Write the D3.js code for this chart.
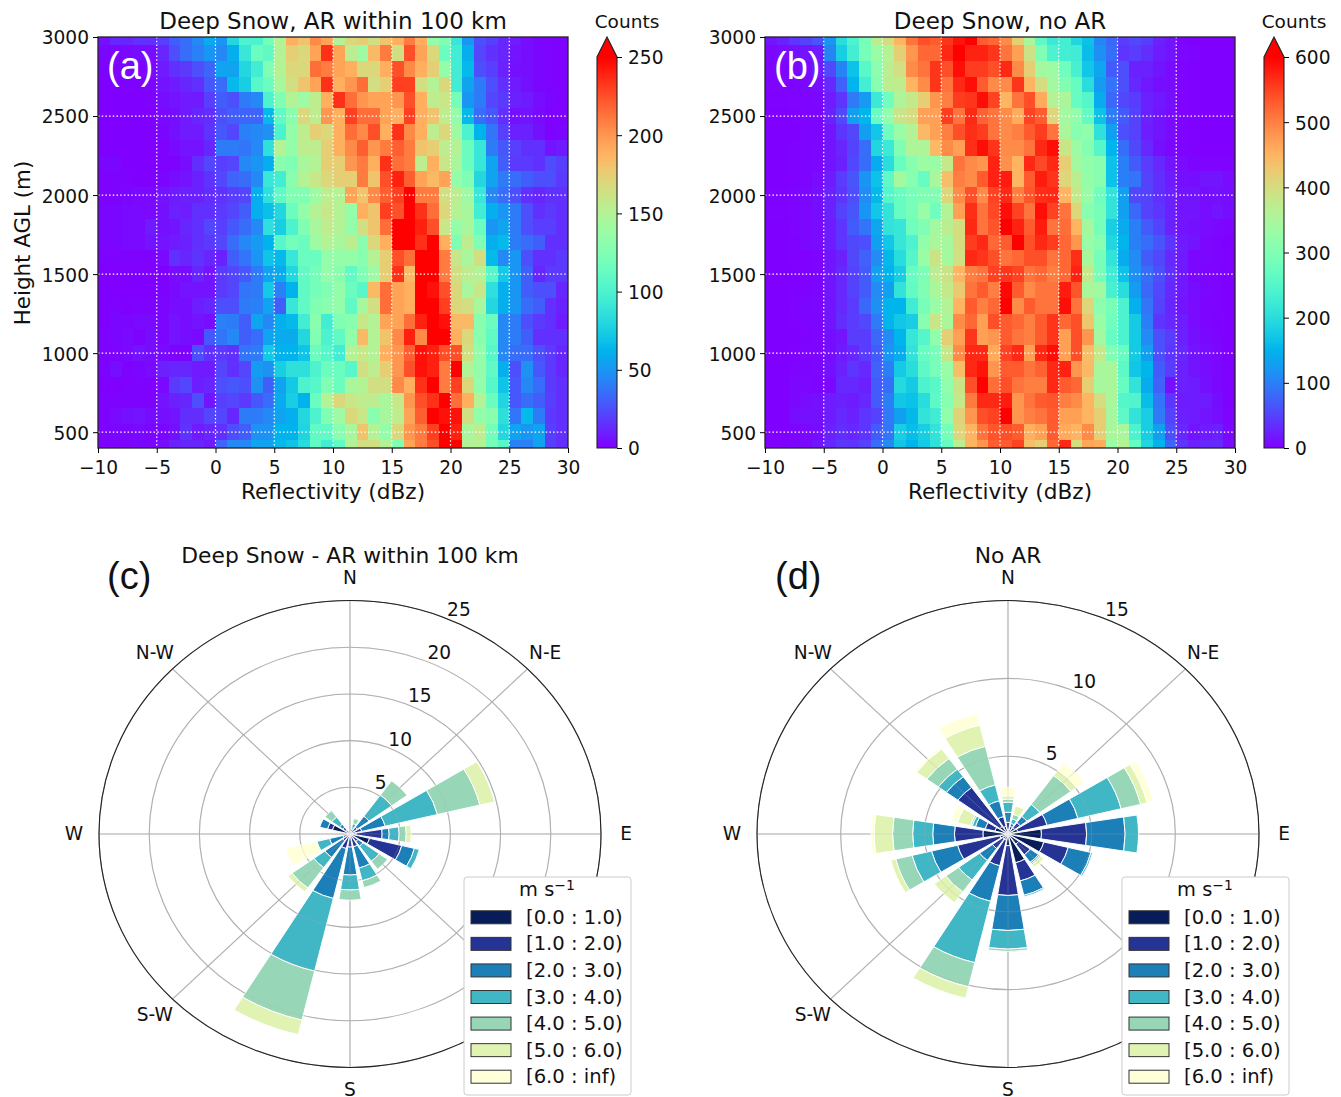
<!DOCTYPE html>
<html lang="en">
<head>
<meta charset="utf-8">
<title>Deep Snow reflectivity and wind roses</title>
<script src="https://d3js.org/d3.v7.min.js"></script>
<style>
    body { margin: 0; background: #fff; }
    svg text { font-family: "DejaVu Sans", sans-serif; fill: #111; }
    .tick text { font-size: 18.6px; transform: translateY(1px); }
    .panel-tag { font-family: "Liberation Sans", sans-serif !important; font-size: 38px; }
</style>
</head>
<body>
<svg id="chart" width="1341" height="1097"></svg>
<script>

//_____________________________DATA_____________________________
var xTicks = [-10, -5, 0, 5, 10, 15, 20, 25, 30];
var yTicks = [500, 1000, 1500, 2000, 2500, 3000];
var heights = d3.range(3000, 300, -100);
var ticksA = [0, 50, 100, 150, 200, 250];
var ticksB = [0, 100, 200, 300, 400, 500, 600];

// counts per 1 dBz bin (-10..30), top row = 3000 m, bottom row = 400 m
var gridA = [
[5,12,12,15,15,20,30,35,45,58,50,80,100,100,120,150,190,180,205,195,150,170,175,165,180,190,210,190,135,125,90,50,25,20,12,8,4,2,1,1],
[2,2,3,4,4,12,25,35,42,50,45,60,90,115,110,150,175,170,195,235,195,155,140,185,210,165,225,195,170,115,95,60,22,15,12,6,4,2,1,1],
[1,1,2,2,3,8,15,18,25,32,55,55,80,95,125,150,170,170,215,210,195,190,170,170,190,225,205,190,175,135,95,65,25,20,10,5,4,2,1,1],
[0,0,1,1,2,6,8,12,15,28,35,65,75,105,115,145,165,180,195,235,190,200,215,165,175,230,230,165,150,170,95,55,40,25,15,8,5,2,1,1],
[0,0,0,0,1,4,6,8,8,20,30,25,40,45,100,125,150,140,155,190,235,215,200,195,195,200,225,190,155,160,120,50,40,22,18,10,8,4,2,1],
[0,0,0,0,0,3,4,8,12,14,25,30,32,32,65,110,130,170,155,200,190,230,215,215,195,190,230,190,180,155,135,65,35,28,15,5,6,3,1,1],
[0,0,0,0,0,2,5,8,8,16,28,22,42,45,48,100,135,155,175,170,190,215,205,225,190,235,205,190,155,170,140,100,62,38,20,10,10,5,1,2],
[0,0,0,0,0,1,3,6,6,12,40,40,38,45,85,150,135,155,155,175,190,205,220,200,210,220,210,180,175,155,150,115,90,40,28,20,15,15,6,8],
[2,2,0,0,0,1,1,4,14,22,20,22,45,50,60,130,125,145,150,175,175,200,210,190,235,215,210,155,190,160,145,115,90,55,30,18,18,15,24,20],
[1,1,1,0,0,2,4,6,10,16,22,32,35,45,90,95,130,150,160,170,175,175,210,180,225,240,220,195,185,195,135,125,80,55,40,35,30,25,25,18],
[1,1,2,3,3,6,8,10,10,14,16,20,22,60,85,110,125,125,140,155,150,195,180,205,220,230,250,210,210,165,155,140,90,45,35,25,15,12,15,15],
[2,2,3,3,3,5,10,9,15,15,18,22,30,60,68,80,115,135,150,160,150,135,190,180,230,225,250,235,215,170,150,145,95,60,50,40,25,15,18,15],
[2,2,3,3,8,5,6,12,15,22,20,28,35,45,85,75,100,125,145,155,150,135,165,180,215,250,250,240,225,160,135,145,115,50,55,40,25,20,20,15],
[2,2,3,3,6,6,8,10,15,18,22,35,45,52,62,105,120,115,140,150,145,155,130,170,190,250,250,235,250,190,125,155,125,60,65,40,35,30,15,15],
[1,1,1,1,1,3,15,12,16,12,10,30,38,50,70,65,90,115,115,135,135,135,130,150,175,225,215,250,250,210,160,145,165,65,45,50,25,15,15,18],
[0,0,0,0,0,0,4,4,12,6,18,22,28,40,55,58,80,110,120,135,130,110,125,140,175,235,185,250,250,210,165,155,150,105,72,50,30,12,18,18],
[0,0,0,0,0,1,3,6,6,6,18,22,38,40,72,42,62,110,120,125,135,115,105,185,215,195,190,250,245,225,170,145,160,85,60,50,30,25,25,12],
[0,1,0,1,1,2,4,4,9,12,25,25,40,42,55,30,90,110,125,130,135,110,145,165,215,195,190,250,250,230,170,165,145,80,60,50,35,30,15,10],
[0,2,2,3,3,2,6,4,6,4,42,40,30,55,45,60,65,95,130,95,125,130,160,150,195,195,215,240,250,245,185,185,130,115,45,40,25,18,15,8],
[1,2,3,1,4,2,6,4,3,28,38,45,30,35,55,58,58,80,125,100,110,135,185,150,180,205,240,205,250,250,190,170,130,110,45,40,30,15,15,15],
[1,1,3,6,4,3,1,1,25,15,18,15,38,40,72,62,62,70,115,105,95,150,160,150,190,200,220,245,240,225,225,165,135,105,45,35,35,25,18,12],
[1,4,1,2,3,10,12,12,8,8,22,15,22,52,48,75,85,85,100,115,115,105,165,155,175,200,225,245,240,210,250,150,135,110,60,25,48,28,18,12],
[0,0,1,1,1,3,18,22,9,12,25,28,25,48,30,55,72,100,105,125,115,145,150,165,165,205,190,235,250,210,230,170,135,105,70,28,45,35,18,15],
[1,1,1,1,1,6,10,12,25,6,20,22,18,28,35,58,75,62,115,150,170,160,155,155,145,160,200,225,235,250,215,190,150,115,78,28,35,30,20,15],
[1,3,5,6,4,5,6,14,14,22,22,12,40,40,45,55,60,80,100,125,140,170,160,130,145,155,195,220,250,245,245,165,135,130,85,38,65,40,18,15],
[1,2,2,3,2,2,5,16,8,12,15,25,30,48,48,62,62,78,110,110,130,145,180,150,135,170,200,210,230,250,240,145,155,120,80,55,50,55,20,15],
[1,1,1,2,2,4,10,12,12,8,32,45,45,55,55,65,70,82,110,95,110,150,165,165,150,125,195,210,225,250,250,150,150,120,105,42,42,55,20,15]
];
var gridB = [
[15,25,40,50,65,120,200,240,290,370,400,450,510,540,530,560,585,600,530,520,490,420,350,260,220,230,190,165,105,80,45,55,45,25,15,3,0,0,0,0],
[5,8,12,15,20,105,180,230,290,330,360,420,480,520,520,570,600,575,575,560,510,470,390,300,240,230,225,160,115,85,40,45,35,20,15,5,2,0,0,0],
[3,3,6,10,18,55,105,165,255,315,370,395,490,510,560,540,590,555,555,540,570,490,420,340,335,280,235,170,135,70,60,25,25,15,8,3,1,0,0,0],
[2,2,3,5,10,30,75,150,230,310,370,375,450,490,560,510,570,590,530,490,490,560,450,400,340,300,270,200,125,90,60,30,18,10,8,2,1,0,0,0],
[1,1,2,3,5,20,40,95,125,220,280,355,380,420,480,500,555,560,590,550,450,510,540,460,360,350,270,250,140,80,55,45,25,18,12,2,1,0,0,0],
[0,0,1,2,4,25,55,130,150,270,320,385,400,470,470,555,510,570,525,510,490,460,550,530,410,340,320,265,165,100,70,50,25,15,8,2,1,0,0,0],
[0,0,0,2,4,15,40,55,130,170,280,330,360,445,470,500,540,565,555,510,490,500,530,555,510,350,310,320,205,130,60,50,22,15,8,2,1,0,0,0],
[0,0,1,3,5,15,28,50,85,190,220,300,355,355,445,490,470,565,590,560,490,490,510,570,590,385,335,305,250,150,85,55,30,12,5,2,1,0,0,0],
[0,0,1,3,5,15,25,55,85,140,200,275,310,335,330,380,510,490,480,575,485,450,570,545,570,420,340,320,310,165,100,70,45,30,15,8,4,2,2,2],
[0,0,1,4,8,20,45,65,120,165,260,345,310,270,350,440,500,490,530,575,580,450,530,580,560,410,370,325,310,165,100,90,50,35,20,12,10,15,15,8],
[1,1,3,5,12,25,40,60,110,155,250,270,290,300,300,410,490,540,490,550,570,500,535,565,570,450,380,330,280,210,130,55,50,35,25,15,15,10,12,10],
[1,1,3,5,10,25,50,65,120,170,210,270,290,330,280,360,470,565,510,545,590,550,510,590,550,510,410,310,290,210,130,80,50,40,25,15,15,10,15,10],
[0,0,2,5,8,20,40,70,90,135,210,215,280,300,340,370,400,570,510,535,600,575,530,580,510,515,450,345,290,180,140,100,70,50,25,15,12,8,5,2],
[0,0,1,5,8,20,40,55,60,130,170,215,240,320,350,345,400,555,570,520,530,600,540,570,555,520,480,330,310,190,150,100,85,65,40,20,15,5,3,0],
[0,0,1,1,3,15,25,55,75,110,155,200,250,330,390,340,395,570,560,540,510,520,540,540,510,520,565,345,290,210,140,110,70,55,30,20,5,5,3,1],
[0,0,0,1,3,15,30,50,70,130,150,180,270,295,370,390,450,500,510,550,560,550,510,520,500,520,575,380,290,225,165,115,85,60,35,18,5,3,2,0],
[0,0,1,1,4,15,30,50,70,110,130,210,265,300,350,380,425,510,530,500,595,530,490,510,510,580,535,350,340,235,200,125,80,55,30,18,10,5,3,0],
[0,0,2,4,5,15,30,45,80,115,150,150,225,290,330,360,450,530,500,520,600,490,530,510,510,590,510,410,315,290,240,145,90,50,28,15,8,3,2,0],
[0,0,1,2,4,15,35,45,55,95,150,170,180,310,385,350,490,520,470,540,530,520,500,530,560,520,540,430,330,280,240,175,100,40,30,22,8,3,1,0],
[0,0,0,1,2,10,15,45,45,80,110,150,215,250,320,420,470,560,470,480,530,510,500,530,560,470,540,480,340,270,240,175,110,60,45,25,12,6,3,0],
[0,0,1,2,3,10,20,30,45,70,120,140,210,270,290,385,490,570,570,460,550,570,470,570,590,470,540,440,380,300,270,175,130,60,40,30,15,10,5,0],
[0,0,2,4,5,12,25,40,30,75,100,175,200,260,290,330,440,570,585,480,530,530,510,525,570,575,480,445,350,350,260,170,150,70,45,25,15,10,5,1],
[0,0,5,5,3,5,30,30,25,70,85,195,175,240,255,320,390,540,600,515,540,510,500,500,570,530,520,420,345,350,270,210,140,75,12,25,20,12,6,1],
[0,0,5,8,12,20,25,20,30,70,100,170,165,200,260,310,380,505,570,570,580,480,510,530,535,500,490,450,400,350,250,245,160,90,40,20,20,20,10,1],
[0,0,10,12,12,20,30,25,40,50,95,130,155,210,225,320,415,480,540,550,600,480,500,510,530,470,470,450,420,345,260,210,180,95,50,25,20,15,10,2],
[0,0,3,5,10,25,35,30,40,70,90,180,160,180,210,290,410,450,510,535,540,530,455,470,530,460,450,490,420,350,350,240,180,130,60,30,15,20,25,5],
[0,0,3,6,15,30,42,40,50,85,110,170,150,175,205,270,370,450,480,530,530,550,440,420,520,570,400,465,460,330,360,270,190,150,80,40,25,30,30,8]
];

var directions = d3.range(0, 360, 22.5);   // N, NNE, NE ... NNW
var spokes = [0, 45, 90, 135, 180, 225, 270, 315];
var compass = [["N",0],["N-E",45],["E",90],["S",180],["S-W",225],["W",270],["N-W",315]];   // S-E sits behind the legend
var speedBins = ["[0.0 : 1.0)","[1.0 : 2.0)","[2.0 : 3.0)","[3.0 : 4.0)","[4.0 : 5.0)","[5.0 : 6.0)","[6.0 : inf)"];
var speedColors = ["#081d58","#253494","#1d7fb7","#41b6c4","#98d6b8","#e0f3b2","#ffffd9"];

// percent frequency per direction, one value per speed bin
var roseC = [
[0,0,0,0,0,0,0],
[0.2,0.3,0.2,0.45,0.55,0,0],
[0.3,0.6,1.45,2.8,1.9,0,0],
[0.3,0.9,2.4,5.35,4.35,1.5,0],
[0.6,2.6,0.7,1.0,0.7,0.5,0],
[2.0,3.3,1.3,0.5,0,0,0],
[0.3,0.7,0.6,2.0,1.05,0,0],
[0.1,1.3,2.35,1.4,0.75,0,0],
[0.2,1.2,3.0,1.6,1.1,0,0],
[0.2,1.4,5.5,8.0,5.4,1.6,0],
[0.1,0.8,2.2,1.35,2.7,0.5,0],
[0.2,0.5,1.4,1.3,0,0,3.2],
[0,0,0,0,0,0,0],
[1.8,0.5,0.8,0,0,0,0],
[0.5,0.4,0.4,0.95,0.85,0,0],
[0,0,0,0,0,0,0]
];
var roseD = [
[0.3,0.45,0.65,0.65,0.2,0.2,0.55],
[0.3,0.2,0.2,0.3,0.3,0.55,0],
[0.5,0.4,0.5,0.95,2.3,0.4,0.6],
[0.6,1.8,1.9,2.65,1.2,0.4,0.4],
[2.0,2.7,2.3,0.8,0,0,0],
[2.2,1.5,1.4,0.1,0,0,0],
[0.8,0.85,0.6,0.1,0.1,0.2,0.1],
[1.9,1.2,0.95,0.1,0,0,0],
[0.75,3.2,2.25,1.2,0.15,0,0],
[0.4,1.7,2.35,4.05,1.6,0.75,0],
[0.4,0.75,0.95,1.55,0.95,0.85,0],
[0.5,2.6,1.6,1.2,1.0,0.3,0],
[1.5,1.7,1.3,1.2,1.2,1.1,0.2],
[0.8,0.6,0.6,0.2,0.1,0.8,0.4],
[0.6,3.1,0.85,0.6,0.85,0.75,0.1],
[0.5,0.65,1.05,1.05,2.55,1.4,0.75]
];

//_____________________________HELPERS_____________________________
var svg = d3.select("#chart");
var minus = function (d) { return String(d).replace("-", "\u2212"); };

// same ramp as matplotlib "rainbow"
function rainbow(t) {
    var r = Math.abs(2 * t - 0.5), g = Math.sin(Math.PI * t), b = Math.cos(Math.PI * t / 2);
    return d3.rgb(Math.min(r, 1) * 255, g * 255, b * 255).formatHex();
}

function text(g, x, y, s, size, anchor) {
    return g.append("text").attr("x", x).attr("y", y).attr("font-size", size)
        .attr("text-anchor", anchor || "middle").text(s);
}

//_____________________________HEATMAPS_____________________________
function drawHeat(left, grid, vmax, cticks, title, tag, gradId, showYLabel) {
    var w = 470, top = 37, bottom = 448;
    var x = d3.scaleLinear().domain([-10, 30]).range([left, left + w]);
    var y = d3.scaleLinear().domain([400, 3000]).range([bottom, top]);
    var c = d3.scaleLinear().domain([0, vmax]).range([0, 1]).clamp(true);
    var g = svg.append("g");

    var rows = g.selectAll("g.row").data(grid).enter().append("g").attr("class", "row");
    rows.each(function (row, i) {
        var h = heights[i];
        var y0 = y(Math.min(3000, h + 50)), y1 = y(Math.max(400, h - 50));
        d3.select(this).selectAll("rect").data(row).enter().append("rect")
            .attr("x", function (d, j) { return x(j - 10); })
            .attr("width", x(1) - x(0))
            .attr("y", y0)
            .attr("height", y1 - y0)
            .attr("shape-rendering", "crispEdges")
            .attr("fill", function (d) { return rainbow(c(d)); });
    });

    // dotted white grid
    g.selectAll("line.vg").data(xTicks.slice(1, -1)).enter().append("line")
        .attr("x1", x).attr("x2", x).attr("y1", top).attr("y2", bottom)
        .attr("stroke", "#fff").attr("stroke-width", 1.2).attr("stroke-dasharray", "1.5 2.2");
    g.selectAll("line.hg").data(yTicks.slice(0, -1)).enter().append("line")
        .attr("y1", y).attr("y2", y).attr("x1", left).attr("x2", left + w)
        .attr("stroke", "#fff").attr("stroke-width", 1.2).attr("stroke-dasharray", "1.5 2.2");

    g.append("rect").attr("x", left).attr("y", top).attr("width", w).attr("height", bottom - top)
        .attr("fill", "none").attr("stroke", "#222").attr("stroke-width", 1.3);

    var ax = g.append("g").attr("transform", "translate(0," + bottom + ")")
        .call(d3.axisBottom(x).tickValues(xTicks).tickSizeOuter(0).tickSize(5).tickPadding(7).tickFormat(minus));
    var ay = g.append("g").attr("transform", "translate(" + left + ",0)")
        .call(d3.axisLeft(y).tickValues(yTicks).tickSizeOuter(0).tickSize(5).tickPadding(4).tickFormat(d3.format("d")));
    ax.select(".domain").remove();
    ay.select(".domain").remove();

    text(g, left + w / 2, 29, title, 23);
    text(g, left + w / 2, 499, "Reflectivity (dBz)", 21.6);
    if (showYLabel) {
        text(g, 0, 0, "Height AGL (m)", 21.4).attr("transform", "translate(30,243) rotate(-90)");
    }
    text(g, left + 9, 79, tag, 38, "start").attr("class", "panel-tag").style("fill", "#fff");

    // colour bar with extend triangle
    var cx = left + w + 29, cw = 20, ctop = 57;
    var cy = d3.scaleLinear().domain([0, vmax]).range([bottom, ctop]);
    var grad = svg.append("defs").append("linearGradient").attr("id", gradId)
        .attr("x1", 0).attr("x2", 0).attr("y1", 1).attr("y2", 0);
    grad.selectAll("stop").data(d3.range(0, 1.001, 0.05)).enter().append("stop")
        .attr("offset", function (d) { return d; })
        .attr("stop-color", rainbow);
    g.append("rect").attr("x", cx).attr("y", ctop).attr("width", cw).attr("height", bottom - ctop)
        .attr("fill", "url(#" + gradId + ")");
    g.append("path").attr("d", d3.line()([[cx, ctop], [cx + cw / 2, top], [cx + cw, ctop]]) + "Z")
        .attr("fill", "#ff0000");
    g.append("path").attr("d", d3.line()([[cx, bottom], [cx, ctop], [cx + cw / 2, top], [cx + cw, ctop], [cx + cw, bottom]]) + "Z")
        .attr("fill", "none").attr("stroke", "#222").attr("stroke-width", 1.1);
    var ac = g.append("g").attr("transform", "translate(" + (cx + cw) + ",0)")
        .call(d3.axisRight(cy).tickValues(cticks).tickSizeOuter(0).tickSize(5).tickPadding(6));
    ac.select(".domain").remove();
    text(g, cx + 30, 28, "Counts", 18.5);
}

//_____________________________WIND ROSES_____________________________
function drawRose(cx, rose, rmax, rticks, title, tag, tagX, legendX) {
    var cy = 834, R = 251, squash = 0.93;   // the published figure is a bit wider than tall
    var r = d3.scaleLinear().domain([0, rmax]).range([0, R]);
    var g = svg.append("g");
    var centre = g.append("g").attr("transform", "translate(" + cx + "," + cy + ")");
    var geo = centre.append("g").attr("transform", "scale(1," + squash + ")");

    function grid(sel) {
        sel.selectAll("line.sp").data(spokes).enter().append("line")
            .attr("x2", function (d) { return R * Math.sin(d * Math.PI / 180); })
            .attr("y2", function (d) { return -R * Math.cos(d * Math.PI / 180); })
            .attr("stroke", "#b0b0b0").attr("stroke-width", 1.1);
        sel.selectAll("circle").data(rticks).enter().append("circle")
            .attr("r", r).attr("fill", "none")
            .attr("stroke", "#b0b0b0").attr("stroke-width", 1.1);
    }
    grid(geo.append("g"));

    var arc = d3.arc();
    rose.forEach(function (speeds, i) {
        var a = directions[i] * Math.PI / 180, half = 9 * Math.PI / 180, base = 0;
        speeds.forEach(function (v, k) {
            if (!v) return;
            geo.append("path")
                .attr("d", arc({ innerRadius: r(base), outerRadius: r(base + v), startAngle: a - half, endAngle: a + half }))
                .attr("fill", speedColors[k])
                .attr("stroke", "#fff").attr("stroke-width", 1);
            base += v;
        });
    });

    // the grid shows faintly through the bars
    grid(geo.append("g").attr("opacity", 0.22));

    geo.append("circle").attr("r", R).attr("fill", "none").attr("stroke", "#222").attr("stroke-width", 1.1);

    rticks.forEach(function (v) {
        text(centre, 11 + 0.39 * r(v), -2 - 0.86 * r(v), v, 18.6);
    });
    compass.forEach(function (d) {
        var a = d[1] * Math.PI / 180;
        text(centre, 276 * Math.sin(a), -256 * Math.cos(a) + 6, d[0], 18.6);
    });

    text(g, cx, 563, title, 21.8);
    text(g, tagX, 589, tag, 38, "start").attr("class", "panel-tag");

    // legend
    var ly = 877, lh = 218, lw = 167;
    var lg = g.append("g").attr("transform", "translate(" + legendX + "," + ly + ")");
    lg.append("rect").attr("width", lw).attr("height", lh).attr("rx", 3)
        .attr("fill", "#fff").attr("stroke", "#ccc").attr("stroke-width", 1);
    var ttl = text(lg, 83, 19, "m s", 19.4);
    ttl.append("tspan").attr("dy", -6).attr("font-size", 14).text("\u22121");
    var row = d3.scaleBand().domain(speedBins).range([27, 213]);
    speedBins.forEach(function (b, i) {
        var yy = row(b) + row.bandwidth() / 2;
        lg.append("rect").attr("x", 7).attr("y", yy - 6.5).attr("width", 40).attr("height", 13)
            .attr("fill", speedColors[i]).attr("stroke", "#333").attr("stroke-width", 1);
        text(lg, 62, yy + 6.5, b, 19.6, "start");
    });
}

//_____________________________DRAW_____________________________
drawHeat(98, gridA, 250, ticksA, "Deep Snow, AR within 100 km", "(a)", "cbA", true);
drawHeat(765, gridB, 600, ticksB, "Deep Snow, no AR", "(b)", "cbB", false);
drawRose(350, roseC, 25, [5, 10, 15, 20, 25], "Deep Snow - AR within 100 km", "(c)", 107, 464);
drawRose(1008, roseD, 15, [5, 10, 15], "No AR", "(d)", 775, 1122);

</script>
</body>
</html>
